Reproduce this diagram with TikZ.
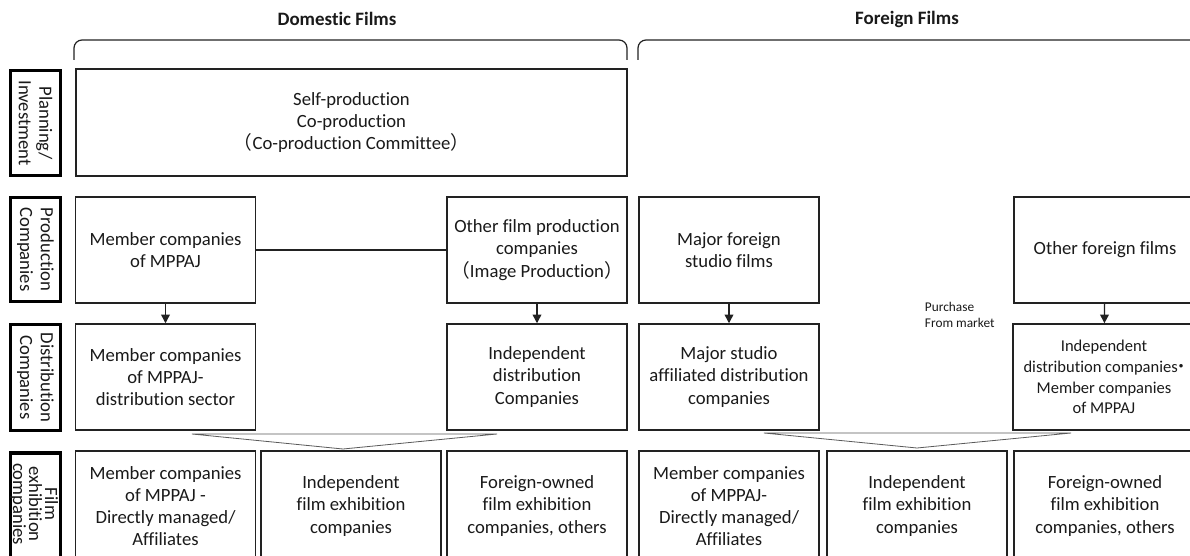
\documentclass[tikz,border=0pt]{standalone}
\usepackage{fontspec}
\setmainfont{Carlito}[Ligatures={NoCommon,NoContextual}]
\newfontfamily\cjk{Noto Sans CJK JP}
\usetikzlibrary{arrows.meta}
\definecolor{Ink}{HTML}{1A1A1A}
\definecolor{Edge}{HTML}{222222}
\definecolor{Chevron}{HTML}{5A5A5A}

\begin{document}
\begin{tikzpicture}[x=0.75pt,y=-0.75pt,>={Triangle[length=6.5pt,width=6.5pt]},
  every node/.style={text=Ink,font=\fontsize{14}{16.6}\selectfont,inner sep=2pt},
  box/.style={draw=Edge,line width=1.1pt,align=center,minimum width=135pt,minimum height=79.5pt},
  showbox/.style={box,minimum height=82.5pt},
  side/.style={draw=black,line width=2.4pt,minimum width=38pt,minimum height=#1},
  sidetext/.style={rotate=-90,align=center,font=\fontsize{14}{15.5}\selectfont},
  head/.style={font=\bfseries\fontsize{14.2}{16}\selectfont},
  bracket/.style={draw=Edge,line width=0.9pt,rounded corners=6pt},
  chevron/.style={draw=Chevron,line width=0.6pt}]
\useasboundingbox (0,0) rectangle (1190,556);
\clip (0,0) rectangle (1190,556);
\fill[white] (0,0) rectangle (1190,556);

\node[head] (dom) at (337,19) {Domestic Films};
\node[head] (frn) at (907,19) {Foreign Films};
\draw[bracket] (74,60)--(74,40)--(627,40)--(627,60);
\draw[bracket] (638,60)--(638,40)--(1200,40);

\node[side=79pt] (lpi) at (35.5,123) {};
\node[sidetext] (tpi) at (lpi) {Planning/\\Investment};
\node[side=78pt] (lpc) at (35.5,249.5) {};
\node[sidetext] (tpc) at (lpc) {Production\\Companies};
\node[side=80pt] (ldc) at (35.5,377.5) {};
\node[sidetext] (tdc) at (ldc) {Distribution\\Companies};
\node[side=87pt] (lec) at (35.5,511) {};
\node[sidetext,font=\fontsize{14}{12}\selectfont] (tec) at (34,504) {Film\\exhibition\\companies};

\node[box,minimum width=413pt,minimum height=80pt] (plan) at (351.5,122.5) {Self-production\\Co-production\\{\cjk （}Co-production Committee{\cjk ）}};

\node[box] (pmem) at (165.5,250) {Member companies\\of MPPAJ};
\node[box] (poth) at (537,250) {Other film production\\companies\\{\cjk （}Image Production{\cjk ）}};
\node[box] (pmaj) at (729,250) {Major foreign\\studio films};
\node[box,minimum width=136.5pt] (pfor) at (1105,250) {Other foreign films};

\node[box] (dmem) at (165.5,377) {Member companies\\of MPPAJ-\\distribution sector};
\node[box] (doth) at (537,377) {Independent\\distribution\\Companies};
\node[box] (dmaj) at (729,377) {Major studio\\affiliated distribution\\companies};
\node[box,minimum width=136.5pt,font=\fontsize{12.4}{15.5}\selectfont] (dfor) at (1104,377) {Independent\\distribution companies{\cjk\kern-.3em・\kern-.3em}\\Member companies\\of MPPAJ};

\node[showbox] (emem) at (165.5,506) {Member companies\\of MPPAJ -\\Directly managed/\\Affiliates};
\node[showbox] (eind) at (351,506) {Independent\\film exhibition\\companies};
\node[showbox] (efor) at (537,506) {Foreign-owned\\film exhibition\\companies, others};
\node[showbox] (fmem) at (729,506) {Member companies\\of MPPAJ-\\Directly managed/\\Affiliates};
\node[showbox] (find) at (917,506) {Independent\\film exhibition\\companies};
\node[showbox,minimum width=136.5pt] (ffor) at (1105,506) {Foreign-owned\\film exhibition\\companies, others};

\node[font=\fontsize{10}{12}\selectfont,align=left,anchor=west] (buy) at (922,315) {Purchase\\From market};

\draw[Edge,line width=1pt] (pmem)--(poth);
\draw[Edge,line width=1pt,->] (pmem)--(dmem);
\draw[Edge,line width=1pt,->] (poth)--(doth);
\draw[Edge,line width=1pt,->] (pmaj)--(dmaj);
\draw[Edge,line width=1pt,->] (pfor)--(dfor);

\draw[chevron] (192,434)--(497,434)--(343,449)--cycle;
\draw[chevron] (764,433)--(1071,433)--(917,448)--cycle;
\end{tikzpicture}
\end{document}
